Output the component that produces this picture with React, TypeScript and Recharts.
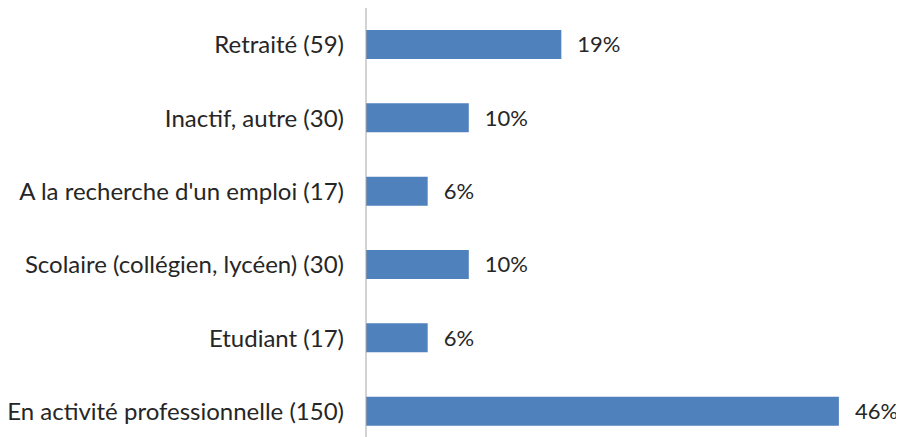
import React from "react";
import { BarChart, Bar, XAxis, YAxis, LabelList } from "recharts";

const categories = [
  "Retraité (59)",
  "Inactif, autre (30)",
  "A la recherche d'un emploi (17)",
  "Scolaire (collégien, lycéen) (30)",
  "Etudiant (17)",
  "En activité professionnelle (150)",
];
const percentages = [19, 10, 6, 10, 6, 46];

const data = categories.map((name, i) => ({ name, value: percentages[i] }));

const FONT = "Lato, 'Open Sans', sans-serif";

export default function App() {
  return (
    <div style={{ width: 896, height: 429, overflow: "hidden" }}>
      <BarChart
        width={896}
        height={440}
        data={data}
        layout="vertical"
        margin={{ top: 0, right: 24, bottom: 0, left: 0 }}
        barCategoryGap={0}
      >
        <XAxis type="number" domain={[0, 50]} hide />
        <YAxis
          type="category"
          dataKey="name"
          width={358}
          tickLine={false}
          tickSize={0}
          tickMargin={22}
          axisLine={{ stroke: "#A6A6A6", strokeWidth: 1 }}
          tick={{ fill: "#262626", fontSize: 24, fontFamily: FONT }}
          interval={0}
        />
        <Bar dataKey="value" fill="#4F81BD" barSize={29} isAnimationActive={false}>
          <LabelList
            dataKey="value"
            position="right"
            offset={16}
            formatter={(v: any) => `${v}%`}
            style={{ fill: "#262626", fontSize: 22, fontFamily: FONT }}
          />
        </Bar>
      </BarChart>
    </div>
  );
}
